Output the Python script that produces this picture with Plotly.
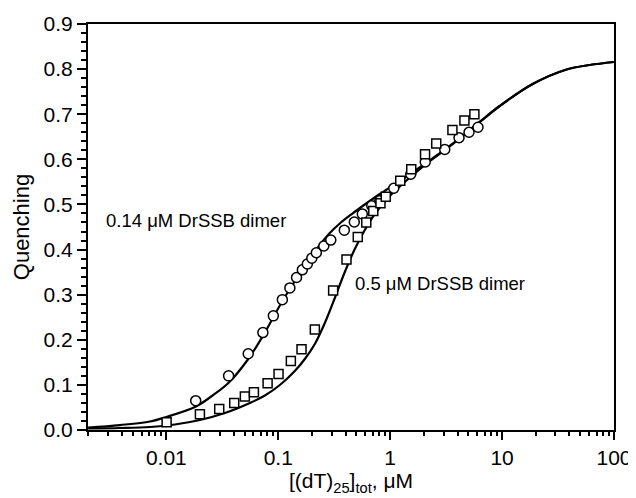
import plotly.graph_objects as go

# Data: 0.14 uM DrSSB dimer (circles)
circ_x = [0.0183, 0.0360, 0.0539, 0.0729, 0.0904, 0.1088, 0.1270, 0.1457, 0.1641, 0.1819,
          0.1995, 0.2189, 0.2553, 0.2948, 0.3893, 0.4781, 0.5636, 0.685, 0.807, 1.077,
          1.527, 2.058, 3.073, 4.123, 5.065, 6.093]
circ_y = [0.065, 0.120, 0.169, 0.216, 0.253, 0.289, 0.315, 0.338, 0.355, 0.368,
          0.381, 0.393, 0.408, 0.421, 0.443, 0.461, 0.479, 0.497, 0.508, 0.536,
          0.567, 0.594, 0.622, 0.648, 0.660, 0.671]

# Data: 0.5 uM DrSSB dimer (squares)
sq_x = [0.01006, 0.01995, 0.02968, 0.04041, 0.0503, 0.0606, 0.0803, 0.1006, 0.1296, 0.1614,
        0.2123, 0.3093, 0.4072, 0.5136, 0.6117, 0.7065, 0.8192, 0.9135, 1.231, 1.543,
        2.049, 2.580, 3.600, 4.607, 5.656]
sq_y = [0.017, 0.035, 0.0466, 0.060, 0.074, 0.0836, 0.1035, 0.124, 0.153, 0.179,
        0.223, 0.309, 0.378, 0.428, 0.460, 0.4855, 0.5025, 0.517, 0.5527, 0.578,
        0.611, 0.635, 0.665, 0.686, 0.700]

# Fitted curves
fitA_x = [0.002, 0.003853, 0.007139, 0.01, 0.01838, 0.02553, 0.03622, 0.05355, 0.07286, 0.1077,
          0.1466, 0.1915, 0.2351, 0.2888, 0.3548, 0.4541, 0.5932, 0.8074, 1.218, 2.036,
          3.405, 6.31, 9.52, 18.76, 37.7, 60.6, 100]
fitA_y = [0.0055, 0.011, 0.0188, 0.0288, 0.0521, 0.0754, 0.1053, 0.1563, 0.2084, 0.2838,
          0.3370, 0.3803, 0.4101, 0.4367, 0.4578, 0.4788, 0.4999, 0.5232, 0.5520, 0.5897,
          0.6296, 0.6828, 0.7182, 0.7670, 0.7992, 0.8091, 0.8158]

fitB_x = [0.002, 0.003853, 0.007139, 0.01194, 0.01995, 0.03336, 0.05578, 0.07595, 0.1034, 0.1406,
          0.1728, 0.2123, 0.2607, 0.3202, 0.3933, 0.4830, 0.5932, 0.7286, 0.9918, 1.350,
          2.036, 3.405, 6.31, 9.52, 18.76, 37.7, 60.6, 100]
fitB_y = [0.0033, 0.0044, 0.0067, 0.0122, 0.0222, 0.0377, 0.0599, 0.0765, 0.0998, 0.1308,
          0.1574, 0.1906, 0.2372, 0.2926, 0.3503, 0.4012, 0.4434, 0.4788, 0.5187, 0.5498,
          0.5874, 0.6285, 0.6828, 0.7182, 0.7670, 0.7992, 0.8091, 0.8158]

x_tickvals = [0.01, 0.1, 1, 10, 100]
x_ticktext = ["0.01", "0.1", "1", "10", "100"]
x_minor = [m * 10 ** e for e in range(-3, 2) for m in range(2, 10)]
x_minor = [v for v in x_minor if v >= 0.002]

FONT = "Liberation Sans, Arial, sans-serif"

fig = go.Figure()
line_style = dict(color="black", width=2.2, shape="spline", smoothing=1.0)
fig.add_trace(go.Scatter(x=fitA_x, y=fitA_y, mode="lines", line=line_style, showlegend=False))
fig.add_trace(go.Scatter(x=fitB_x, y=fitB_y, mode="lines", line=line_style, showlegend=False))
fig.add_trace(go.Scatter(x=circ_x, y=circ_y, mode="markers",
                         marker=dict(symbol="circle", size=10, color="white", line=dict(color="black", width=1.5)),
                         showlegend=False))
fig.add_trace(go.Scatter(x=sq_x, y=sq_y, mode="markers",
                         marker=dict(symbol="square", size=9, color="white", line=dict(color="black", width=1.5)),
                         showlegend=False))

fig.add_annotation(text="0.14 μM DrSSB dimer", xref="paper", yref="paper", x=0.030, y=0.517,
                   xanchor="left", yanchor="middle", showarrow=False,
                   font=dict(family=FONT, size=18.5, color="black"))
fig.add_annotation(text="0.5 μM DrSSB dimer", xref="paper", yref="paper", x=0.503, y=0.362,
                   xanchor="left", yanchor="middle", showarrow=False,
                   font=dict(family=FONT, size=18.5, color="black"))

# page body has an 8px margin, so the figure is sized to fit inside the window
fig.update_layout(
    width=628, height=490,
    margin=dict(l=80, r=22, t=16, b=68),
    paper_bgcolor="white", plot_bgcolor="white",
    font=dict(family=FONT, size=21, color="black"),
    xaxis=dict(type="log", range=[-2.7, 2], tickmode="array", tickvals=x_tickvals, ticktext=x_ticktext,
               ticks="outside", ticklen=8, tickwidth=2, tickcolor="black",
               showline=True, linecolor="black", linewidth=2, mirror=True,
               showgrid=False, zeroline=False, automargin=False,
               minor=dict(tickmode="array", tickvals=x_minor, ticks="outside", ticklen=4, tickwidth=1.5,
                          tickcolor="black", showgrid=False),
               title=dict(text="[(dT)<sub>25</sub>]<sub>tot</sub>, μM", font=dict(size=21), standoff=3),
               tickfont=dict(size=21)),
    yaxis=dict(range=[0, 0.9], dtick=0.1, tick0=0, tickformat=".1f",
               ticks="outside", ticklen=9, tickwidth=2, tickcolor="black",
               showline=True, linecolor="black", linewidth=2, mirror=True,
               showgrid=False, zeroline=False, automargin=False,
               minor=dict(dtick=0.02, ticks="outside", ticklen=5, tickwidth=1.5, tickcolor="black", showgrid=False),
               title=dict(text="Quenching", font=dict(size=22), standoff=8),
               tickfont=dict(size=21)),
)

fig.write_html("out.html")
